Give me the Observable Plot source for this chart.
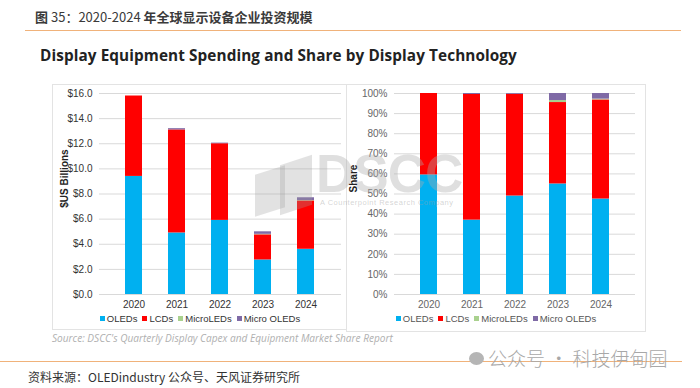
<!DOCTYPE html>
<html>
<head>
<meta charset="utf-8">
<script src="https://cdn.jsdelivr.net/npm/d3@7"></script>
<script src="https://cdn.jsdelivr.net/npm/@observablehq/plot@0.6"></script>
<style>
  html, body { margin: 0; padding: 0; background: #fff; }
  #root { position: relative; width: 700px; height: 388px; overflow: hidden; background: #fff; font-family: "Liberation Sans", Arial, sans-serif; }
  .abs { position: absolute; }
  .title { left: 35px; top: 7px; font-family: "Noto Sans CJK SC", sans-serif; font-size: 13px; font-weight: 700; color: #3a3a3a; white-space: nowrap; }
  .title .num { font-weight: 400; }
  .hline { height: 1px; background: #f0b27a; }
  .subtitle { left: 40px; top: 45px; font-family: "Open Sans", sans-serif; font-weight: 700; font-size: 15.3px; color: #222; white-space: nowrap; letter-spacing: 0.1px; }
  .panel { border: 1px solid #e3e3e3; box-sizing: border-box; }
  .ylab { font-size: 10px; font-weight: 700; color: #222; transform: rotate(-90deg); transform-origin: center; white-space: nowrap; text-align: center; width: 100px; }
  .legend { font-size: 9.5px; white-space: nowrap; display: flex; gap: 5px; justify-content: center; }
  .legend span.sw { display: inline-block; width: 5px; height: 5px; margin-right: 2px; vertical-align: middle; position: relative; top: -1px; }
  .source { left: 52px; top: 331px; font-family: "Open Sans", sans-serif; font-style: italic; font-size: 10.1px; color: #b0b0b0; white-space: nowrap; }
  .footer { left: 28px; top: 368px; font-family: "Noto Sans CJK SC", sans-serif; font-size: 12px; color: #333; white-space: nowrap; }
  .wm { left: 469px; top: 344px; font-family: "Noto Sans CJK SC", sans-serif; font-size: 19px; font-weight: 300; color: #a8a8a8; white-space: nowrap; }
  .wm .ic { display: inline-block; width: 15px; height: 13px; border-radius: 50%; background: #b5b5b5; margin-right: 4px; vertical-align: middle; position: relative; top: -2px; }
  .dscc { left: 316px; top: 147px; font-family: "Liberation Sans", Arial, sans-serif; font-weight: 700; font-size: 53px; color: rgba(170,170,170,0.38); letter-spacing: -1px; pointer-events: none; line-height: 1; }
  .dscc-small { left: 320px; top: 198px; font-size: 7.5px; color: rgba(160,160,160,0.45); white-space: nowrap; letter-spacing: 0.5px; }
  .para { background: rgba(160,160,160,0.3); transform: skewY(-18deg); }
</style>
</head>
<body>
<div id="root">
  <div class="abs title"><span>图</span> <span class="num">35：2020-2024</span> 年全球显示设备企业投资规模</div>
  <div class="abs hline" style="left:25px; top:30px; width:656px;"></div>
  <div class="abs subtitle">Display Equipment Spending and Share by Display Technology</div>
  <div class="abs panel" style="left:52px; top:84px; width:295px; height:246px;"></div>
  <div class="abs panel" style="left:346px; top:84px; width:300px; height:248px;"></div>
  <div class="abs" id="left" style="left:52px; top:85px;"></div>
  <div class="abs" id="right" style="left:346px; top:85px;"></div>
  <div class="abs para" style="left:255px; top:170px; width:30px; height:42px;"></div>
  <div class="abs para" style="left:280px; top:160px; width:32px; height:50px;"></div>
  <div class="abs dscc">DSCC</div>
  <div class="abs dscc-small">A Counterpoint Research Company</div>
  <div class="abs ylab" style="left:14px; top:173px;">$US Billions</div>
  <div class="abs ylab" style="left:303px; top:173px;">Share</div>
  <div class="abs legend" id="legL" style="left:52px; top:313px; width:296px; color:#333;"></div>
  <div class="abs legend" id="legR" style="left:346px; top:313px; width:300px; color:#555;"></div>
  <div class="abs source">Source: DSCC's Quarterly Display Capex and Equipment Market Share Report</div>
  <div class="abs hline" style="left:0px; top:361px; width:682px;"></div>
  <div class="abs footer">资料来源：OLEDindustry 公众号、天风证券研究所</div>
  <div class="abs wm"><span class="ic"></span>公众号 · 科技伊甸园</div>
</div>
<script>
// ---- data ----
const years = ["2020", "2021", "2022", "2023", "2024"];
const techs = ["OLEDs", "LCDs", "MicroLEDs", "Micro OLEDs"];
const techColors = ["#00B0F0", "#FF0000", "#A9D18E", "#7F6AA6"];

// Spending, $US billions
const spendOLED = [9.4, 4.9, 5.9, 2.75, 3.6];
const spendLCD = [6.4, 8.2, 6.1, 2.0, 3.85];
const spendMicroLED = [0, 0, 0, 0.04, 0.03];
const spendMicroOLED = [0, 0.1, 0.05, 0.2, 0.22];

// Share, %
const shareOLED = [59.5, 37, 49, 55, 47.5];
const shareLCD = [40.5, 62.5, 50.6, 40.5, 49.3];
const shareMicroLED = [0, 0, 0, 1, 0.4];
const shareMicroOLED = [0, 0.5, 0.4, 3.5, 2.8];

const spendTicks = [0, 2, 4, 6, 8, 10, 12, 14, 16];
const shareTicks = [0, 10, 20, 30, 40, 50, 60, 70, 80, 90, 100];

function toLong(series) {
  const out = [];
  techs.forEach((t, ti) => years.forEach((y, yi) => out.push({year: y, tech: t, value: series[ti][yi]})));
  return out;
}
const spendData = toLong([spendOLED, spendLCD, spendMicroLED, spendMicroOLED]);
const shareData = toLong([shareOLED, shareLCD, shareMicroLED, shareMicroOLED]);

function makeChart({data, width, marginLeft, marginRight, domain, ticks, fmt, textColor}) {
  return Plot.plot({
    width, height: 228,
    marginTop: 8, marginBottom: 19, marginLeft, marginRight,
    style: {fontFamily: '"Liberation Sans", Arial, sans-serif', fontSize: "10px", color: textColor, background: "transparent"},
    x: {domain: years, padding: 0.6, label: null},
    y: {domain, label: null},
    color: {domain: techs, range: techColors},
    marks: [
      Plot.gridY(ticks, {stroke: "#d9d9d9", strokeOpacity: 1}),
      Plot.barY(data, {x: "year", y: "value", fill: "tech"}),
      Plot.axisY({ticks, tickSize: 0, tickPadding: 7, tickFormat: fmt, label: null}),
      Plot.axisX({tickSize: 0, tickPadding: 6, label: null})
    ]
  });
}

document.getElementById("left").appendChild(makeChart({
  data: spendData, width: 294, marginLeft: 47, marginRight: 5,
  domain: [0, 16], ticks: spendTicks, fmt: d => "$" + d.toFixed(1), textColor: "#333"
}));
document.getElementById("right").appendChild(makeChart({
  data: shareData, width: 300, marginLeft: 48, marginRight: 11,
  domain: [0, 100], ticks: shareTicks, fmt: d => d + "%", textColor: "#666"
}));

function legend(id) {
  const el = document.getElementById(id);
  techs.forEach((t, i) => {
    const item = document.createElement("div");
    const sw = document.createElement("span");
    sw.className = "sw";
    sw.style.background = techColors[i];
    item.appendChild(sw);
    item.appendChild(document.createTextNode(t));
    el.appendChild(item);
  });
}
legend("legL");
legend("legR");
</script>
</body>
</html>
